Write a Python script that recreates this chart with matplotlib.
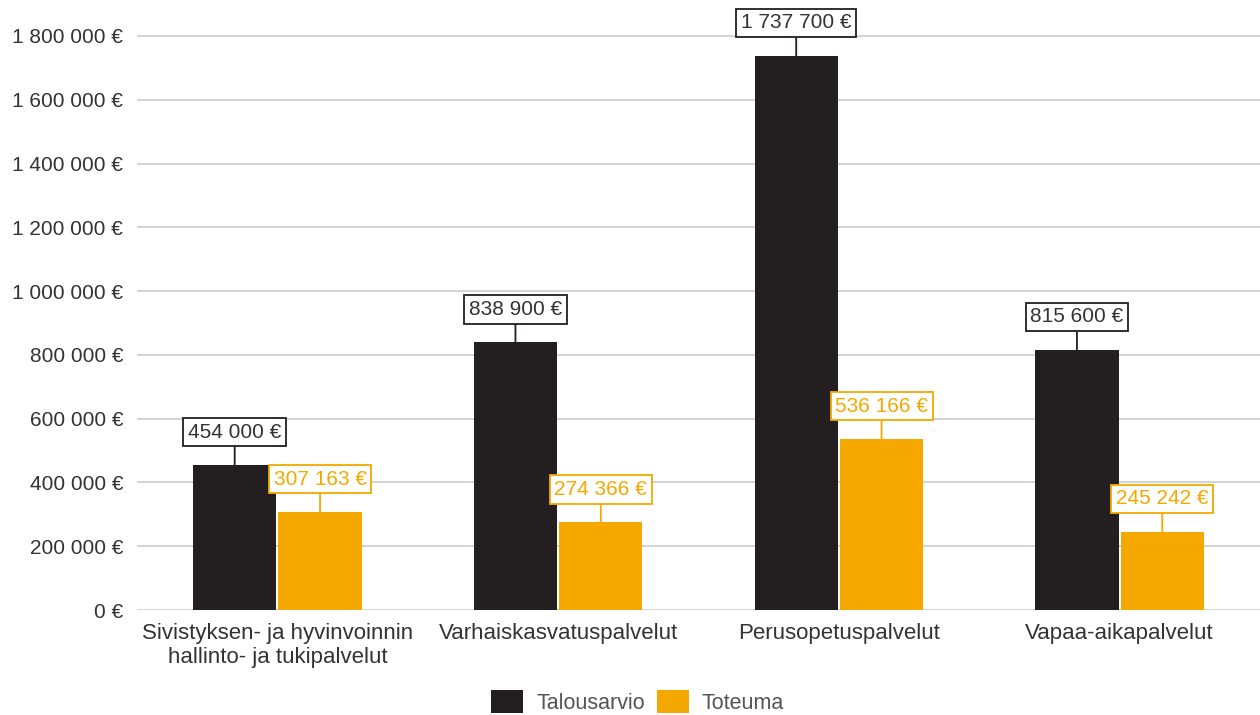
import numpy as np
import matplotlib.pyplot as plt

plt.rcParams['font.family'] = ['Liberation Sans', 'DejaVu Sans']

# Data
categories = ["Sivistyksen- ja hyvinvoinnin\nhallinto- ja tukipalvelut",
              "Varhaiskasvatuspalvelut", "Perusopetuspalvelut", "Vapaa-aikapalvelut"]
talousarvio = [454000, 838900, 1737700, 815600]
toteuma = [307163, 274366, 536166, 245242]
series_names = ["Talousarvio", "Toteuma"]

BLACK = "#231f20"
ORANGE = "#f5a800"
GRID = "#cccccc"
TEXT = "#333333"


def fmt_eur(v):
    return f"{int(v):,}".replace(",", " ") + " €"


def main():
    fig = plt.figure(figsize=(12.6, 7.15), dpi=100)
    ax = fig.add_axes([137 / 1260, 1 - 610 / 715, 1123 / 1260, 590 / 715])

    x = np.arange(len(categories))
    w = 0.296
    gap = 0.004
    b1 = ax.bar(x - w / 2 - gap, talousarvio, width=w, color=BLACK, label=series_names[0], zorder=3)
    b2 = ax.bar(x + w / 2 + gap, toteuma, width=w, color=ORANGE, label=series_names[1], zorder=3)

    for bars, vals, col in [(b1, talousarvio, BLACK), (b2, toteuma, ORANGE)]:
        for r, v in zip(bars, vals):
            cx = r.get_x() + r.get_width() / 2
            ax.annotate(fmt_eur(v), xy=(cx, v), xytext=(0, 33), textcoords="offset pixels",
                        ha="center", va="center", fontsize=15,
                        color=ORANGE if col == ORANGE else TEXT,
                        bbox=dict(boxstyle="square,pad=0.22", fc="white", ec=col, lw=1.3),
                        arrowprops=dict(arrowstyle="-", color=col, lw=1.3, shrinkA=0, shrinkB=0),
                        zorder=5, annotation_clip=False)

    ax.set_xlim(-0.5, 3.5)
    ax.set_ylim(0, 1850000)
    yt = np.arange(0, 1800001, 200000)
    ax.set_yticks(yt)
    ax.set_yticklabels([fmt_eur(v) for v in yt])
    ax.set_xticks(x)
    ax.set_xticklabels(categories, linespacing=1.2)
    ax.tick_params(axis="y", length=0, pad=10, labelsize=15, labelcolor=TEXT)
    ax.tick_params(axis="x", length=0, pad=9, labelsize=16, labelcolor=TEXT)
    ax.yaxis.grid(True, color=GRID, lw=1.2, zorder=0)
    ax.set_axisbelow(True)
    for s in ax.spines.values():
        s.set_visible(False)

    leg = fig.legend(handles=[b1, b2], labels=series_names, loc="center", bbox_to_anchor=(0.506, 1 - 702 / 715),
                     ncol=2, frameon=False, fontsize=15.5, handlelength=1.5, handleheight=1.25,
                     handletextpad=0.6, columnspacing=0.55, borderaxespad=0, borderpad=0)
    for t in leg.get_texts():
        t.set_color("#555555")

    fig.savefig("out.png", dpi=100)
    plt.close(fig)


if __name__ == "__main__":
    main()
